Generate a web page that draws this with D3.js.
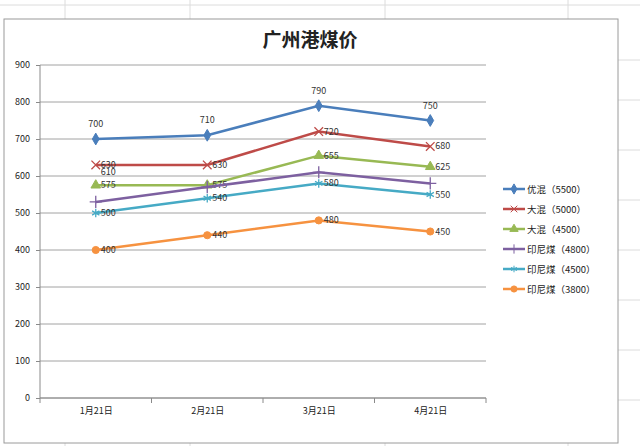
<!DOCTYPE html>
<html><head><meta charset="utf-8">
<script src="https://cdn.jsdelivr.net/npm/d3@7"></script>
<style>body{margin:0;background:#fff}text{font-family:"Noto Sans CJK SC","DejaVu Sans",sans-serif}</style>
</head><body><div id="chart"></div>
<script>
// data
var categories = ["1月21日", "2月21日", "3月21日", "4月21日"];
var seriesNames = ["优混（5500）", "大混（5000）", "大混（4500）", "印尼煤（4800）", "印尼煤（4500）", "印尼煤（3800）"];
var youhun5500 = [700, 710, 790, 750];
var dahun5000 = [630, 630, 720, 680];
var dahun4500 = [575, 575, 655, 625];
var yinni4800 = [530, 570, 610, 580];
var yinni4500 = [500, 540, 580, 550];
var yinni3800 = [400, 440, 480, 450];
var yTicks = [0, 100, 200, 300, 400, 500, 600, 700, 800, 900];

var allSeries = [youhun5500, dahun5000, dahun4500, yinni4800, yinni4500, yinni3800];
var colors = ["#4A7EBB", "#BE4B48", "#98B954", "#7D60A0", "#46AAC5", "#F69240"];
var symbols = [d3.symbolDiamond, d3.symbolTimes, d3.symbolTriangle, d3.symbolPlus, d3.symbolAsterisk, d3.symbolCircle];
var stroked = [false, true, false, true, true, false];
// which points get a label
var showLabel = [[1,1,1,1],[1,1,1,1],[1,1,1,1],[0,0,1,0],[1,1,1,1],[1,1,1,1]];

var W = 640, H = 446;
var svg = d3.select("#chart").append("svg").attr("width", W).attr("height", H);

// spreadsheet background lines
var cellX = [65, 190, 385, 568];
cellX.forEach(function(x){ svg.append("line").attr("x1",x).attr("x2",x).attr("y1",0).attr("y2",H).attr("stroke","#dcdcdc"); });
svg.append("line").attr("x1",0).attr("x2",W).attr("y1",5).attr("y2",5).attr("stroke","#dcdcdc");
[60,100,150,200,250,300,350,400].forEach(function(y){ svg.append("line").attr("x1",618).attr("x2",W).attr("y1",y).attr("y2",y).attr("stroke","#dcdcdc"); });

svg.append("rect").attr("x",4).attr("y",19).attr("width",614).attr("height",424)
  .attr("fill","#fff").attr("stroke","#9a9a9a");

svg.append("text").attr("x",310).attr("y",47).attr("text-anchor","middle")
  .attr("font-size",19).attr("font-weight","bold").attr("fill","#222").text("广州港煤价");

var pLeft = 40, pRight = 486, pTop = 65, pBottom = 398;
var x = d3.scalePoint().domain(categories).range([pLeft, pRight]).padding(0.5);
var y = d3.scaleLinear().domain([0, 900]).range([pBottom, pTop]);

var g = svg.append("g");
g.selectAll(".grid").data(yTicks).enter().append("line")
  .attr("x1", pLeft).attr("x2", pRight).attr("y1", d => y(d)).attr("y2", d => y(d))
  .attr("stroke", "#8a8a8a").attr("stroke-width", 0.8);

var yAxis = g.append("g").attr("transform","translate("+pLeft+",0)")
  .call(d3.axisLeft(y).tickValues(yTicks).tickSize(4).tickPadding(6));
var xAxis = g.append("g").attr("transform","translate(0,"+pBottom+")")
  .call(d3.axisBottom(x).tickSize(0).tickPadding(10));
// category boundary ticks
var step = x.step();
g.selectAll(".bt").data(d3.range(categories.length+1)).enter().append("line")
  .attr("x1", i => pLeft + i*step).attr("x2", i => pLeft + i*step)
  .attr("y1", pBottom).attr("y2", pBottom+5).attr("stroke","#8a8a8a");
[yAxis, xAxis].forEach(function(a){
  a.selectAll("path,line").attr("stroke","#8a8a8a");
  a.selectAll("text").attr("font-size",9).attr("fill","#222");
});
yAxis.select(".domain").attr("d","M0,"+pTop+"V"+pBottom);
xAxis.select(".domain").attr("d","M"+pLeft+",0H"+pRight);

var line = d3.line().x((d,i) => x(categories[i])).y(d => y(d));
allSeries.forEach(function(vals, s){
  g.append("path").datum(vals).attr("d", line).attr("fill","none")
    .attr("stroke", colors[s]).attr("stroke-width", 2.5);
  g.selectAll(".m"+s).data(vals).enter().append("path")
    .attr("transform", (d,i) => "translate("+x(categories[i])+","+y(d)+")")
    .attr("d", d3.symbol().type(symbols[s]).size(stroked[s] ? 50 : 40))
    .attr("fill", stroked[s] ? "none" : colors[s])
    .attr("stroke", colors[s]).attr("stroke-width", stroked[s] ? 1.3 : 1);
  g.selectAll(".l"+s).data(vals).enter().filter((d,i) => showLabel[s][i])
    .append("text")
    .attr("x", (d,i) => s==0 ? x(categories[i]) : x(categories[i]) + 5)
    .attr("y", d => s==0 ? y(d) - 12 : y(d) + 3)
    .attr("text-anchor", s==0 ? "middle" : "start")
    .attr("font-size", 9).attr("fill","#333").text(d => d);
});

// legend
var lg = svg.append("g").attr("transform","translate(503,189)");
seriesNames.forEach(function(n, s){
  var gy = s*20;
  lg.append("line").attr("x1",0).attr("x2",22).attr("y1",gy).attr("y2",gy)
    .attr("stroke",colors[s]).attr("stroke-width",2.5);
  lg.append("path").attr("transform","translate(11,"+gy+")")
    .attr("d", d3.symbol().type(symbols[s]).size(30))
    .attr("fill", stroked[s] ? "none" : colors[s]).attr("stroke",colors[s]);
  lg.append("text").attr("x",24).attr("y",gy+4).attr("font-size",9.5).attr("fill","#222").text(n);
});
</script></body></html>
